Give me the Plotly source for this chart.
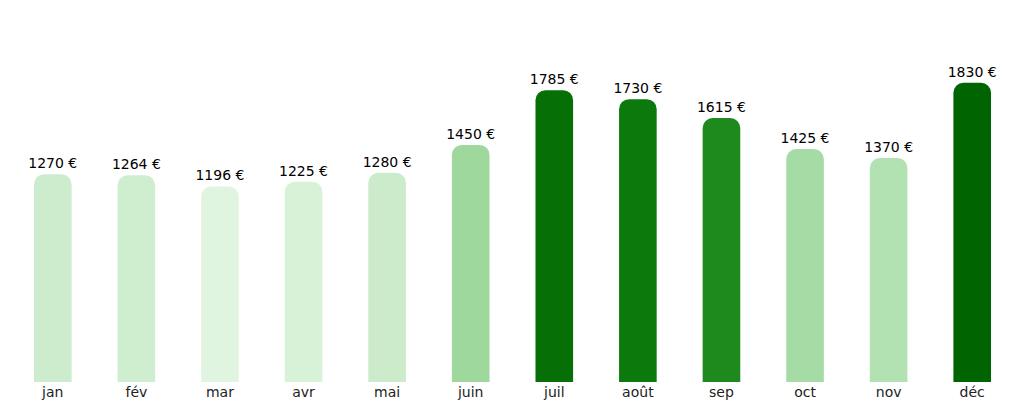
import plotly.graph_objects as go

# ------------------------------------------------------------
# Data
# ------------------------------------------------------------
months = ['jan', 'fév', 'mar', 'avr', 'mai', 'juin', 'juil', 'août', 'sep', 'oct', 'nov', 'déc']
amounts = [1270, 1264, 1196, 1225, 1280, 1450, 1785, 1730, 1615, 1425, 1370, 1830]
labels = [f"{v} €" for v in amounts]

greens = [
    [0.0, '#dff5df'], [0.12, '#cdeccd'], [0.27, '#b3e2b3'], [0.36, '#a5dca5'],
    [0.40, '#9fd89c'], [0.66, '#1e8a1e'], [0.84, '#0b790b'], [0.93, '#067006'],
    [1.0, '#006400'],
]

# ------------------------------------------------------------
# Figure
# ------------------------------------------------------------
fig = go.Figure(go.Bar(
    x=months,
    y=amounts,
    text=labels,
    textposition='outside',
    constraintext='none',
    textfont=dict(size=14, color='black'),
    cliponaxis=False,
    marker=dict(color=amounts, colorscale=greens, cmin=min(amounts), cmax=max(amounts),
                cornerradius=10, line_width=0),
))

fig.update_layout(
    width=1024, height=404,
    margin=dict(l=3, r=18, t=47, b=30),
    plot_bgcolor='white', paper_bgcolor='white',
    font=dict(family='DejaVu Sans', size=14, color='#222'),
    bargap=0.55,
    showlegend=False,
    xaxis=dict(showgrid=False, showline=False, ticks='', tickfont=dict(size=14)),
    yaxis=dict(range=[0, 2000], visible=False),
)

fig.write_html("out.html")
